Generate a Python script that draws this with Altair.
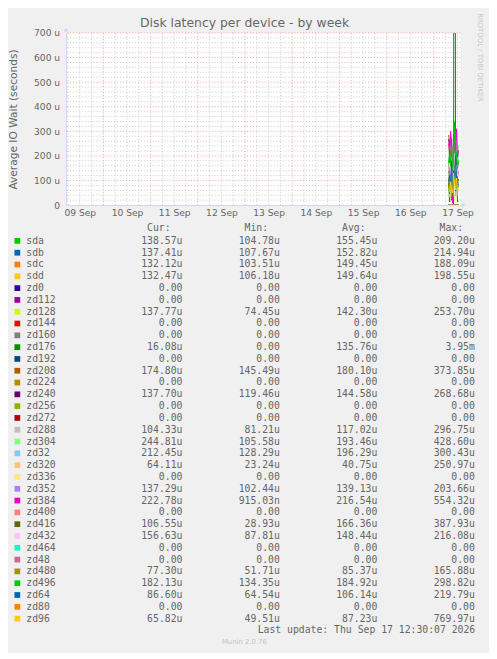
import altair as alt
import pandas as pd

# ---------------- data ----------------
names = ["sda", "sdb", "sdc", "sdd", "zd0", "zd112", "zd128", "zd144", "zd160",
         "zd176", "zd192", "zd208", "zd224", "zd240", "zd256", "zd272", "zd288",
         "zd304", "zd32", "zd320", "zd336", "zd352", "zd384", "zd400", "zd416",
         "zd432", "zd464", "zd48", "zd480", "zd496", "zd64", "zd80", "zd96"]

colors = ["#00CC00", "#0066B3", "#FF8000", "#FFCC00", "#330099", "#990099", "#CCFF00",
          "#FF0000", "#808080", "#008F00", "#00487D", "#B35A00", "#B38F00", "#6B006B",
          "#8FB300", "#B30000", "#BEBEBE", "#80FF80", "#80C9FF", "#FFC080", "#FFE680",
          "#AA80FF", "#EE00CC", "#FF8080", "#666600", "#FFBFFF", "#00FFCC", "#CC6699",
          "#999900", "#00CC00", "#0066B3", "#FF8000", "#FFCC00"]

cur = ["138.57u", "137.41u", "132.12u", "132.47u", "0.00", "0.00", "137.77u", "0.00", "0.00",
       "16.08u", "0.00", "174.80u", "0.00", "137.70u", "0.00", "0.00", "104.33u",
       "244.81u", "212.45u", "64.11u", "0.00", "137.29u", "222.78u", "0.00", "106.55u",
       "156.63u", "0.00", "0.00", "77.30u", "182.13u", "86.60u", "0.00", "65.82u"]
mins = ["104.78u", "107.67u", "103.51u", "106.18u", "0.00", "0.00", "74.45u", "0.00", "0.00",
        "0.00", "0.00", "145.49u", "0.00", "119.46u", "0.00", "0.00", "81.21u",
        "105.58u", "128.29u", "23.24u", "0.00", "102.44u", "915.03n", "0.00", "28.93u",
        "87.81u", "0.00", "0.00", "51.71u", "134.35u", "64.54u", "0.00", "49.51u"]
avgs = ["155.45u", "152.82u", "149.45u", "149.64u", "0.00", "0.00", "142.30u", "0.00", "0.00",
        "135.76u", "0.00", "180.10u", "0.00", "144.58u", "0.00", "0.00", "117.02u",
        "193.46u", "196.29u", "40.75u", "0.00", "139.13u", "216.54u", "0.00", "166.36u",
        "148.44u", "0.00", "0.00", "85.37u", "184.92u", "106.14u", "0.00", "87.23u"]
maxs = ["209.20u", "214.94u", "188.09u", "198.55u", "0.00", "0.00", "253.70u", "0.00", "0.00",
        "3.95m", "0.00", "373.85u", "0.00", "268.68u", "0.00", "0.00", "296.75u",
        "428.60u", "300.43u", "250.97u", "0.00", "203.66u", "554.32u", "0.00", "387.93u",
        "216.08u", "0.00", "0.00", "165.88u", "298.82u", "219.79u", "0.00", "769.97u"]

times = ["2026-09-17T07:30:00", "2026-09-17T08:00:00", "2026-09-17T08:30:00",
         "2026-09-17T09:00:00", "2026-09-17T09:30:00", "2026-09-17T10:00:00",
         "2026-09-17T10:30:00", "2026-09-17T11:00:00", "2026-09-17T11:30:00",
         "2026-09-17T12:00:00", "2026-09-17T12:30:00"]

ZERO = [0, 0, 0, 0, 0, 0, 0, 0, 0, 0, 0]
# plotted values in microseconds
series = {
    "sda":   [168, 195, 150, 142, 112, 160, 182, 139, 155, 121, 139],
    "sdb":   [150, 178, 205, 140, 128, 110, 166, 152, 146, 124, 137],
    "sdc":   [145, 182, 158, 136, 106, 141, 168, 138, 152, 118, 132],
    "sdd":   [142, 170, 190, 131, 108, 139, 160, 148, 136, 120, 132],
    "zd0":   ZERO, "zd112": ZERO,
    "zd128": [240, 175, 128, 78, 140, 116, 158, 126, 110, 124, 138],
    "zd144": ZERO, "zd160": ZERO,
    "zd176": [90, 12, 205, 20, 128, 5, 3950, 40, 150, 14, 16],
    "zd192": ZERO,
    "zd208": [285, 250, 196, 162, 148, 170, 182, 152, 166, 158, 175],
    "zd224": ZERO,
    "zd240": [268, 230, 150, 128, 121, 140, 162, 133, 145, 130, 138],
    "zd256": ZERO, "zd272": ZERO,
    "zd288": [110, 95, 130, 85, 240, 105, 118, 92, 126, 99, 104],
    "zd304": [150, 210, 262, 185, 120, 230, 300, 176, 205, 160, 245],
    "zd32":  [175, 240, 190, 280, 145, 210, 230, 168, 195, 150, 212],
    "zd320": [30, 45, 25, 62, 180, 38, 28, 55, 34, 48, 64],
    "zd336": ZERO,
    "zd352": [130, 165, 118, 150, 106, 172, 140, 128, 190, 112, 137],
    "zd384": [250, 205, 300, 180, 8, 290, 240, 175, 310, 195, 223],
    "zd400": ZERO,
    "zd416": [60, 220, 140, 270, 35, 190, 110, 250, 160, 80, 107],
    "zd432": [140, 170, 128, 195, 92, 150, 210, 135, 162, 118, 157],
    "zd464": ZERO, "zd48": ZERO,
    "zd480": [70, 95, 60, 120, 55, 88, 150, 75, 102, 66, 77],
    "zd496": [175, 205, 160, 240, 140, 190, 340, 170, 215, 150, 182],
    "zd64":  [95, 120, 80, 180, 66, 140, 105, 200, 110, 75, 87],
    "zd80":  ZERO,
    "zd96":  [70, 55, 95, 60, 50, 130, 85, 62, 110, 58, 66],
}

x_start = "2026-09-09T05:00:00"
x_end = "2026-09-17T13:30:00"
day_labels = [9, 10, 11, 12, 13, 14, 15, 16, 17]
title_text = "Disk latency per device - by week"
ytitle = "Average IO Wait (seconds)"
last_update = "Last update: Thu Sep 17 12:30:07 2026"
munin_text = "Munin 2.0.76"
watermark = "RRDTOOL / TOBI OETIKER"

# ---------------- tables ----------------
NB = "\u00a0"
def fmt(s):
    return s if s[-1].isalpha() else s + NB

line_df = pd.DataFrame([{"name": n, "t": t, "v": v}
                        for n in names for t, v in zip(times, series[n])])

cols = ["Cur", "Min", "Avg", "Max"]
leg_df = pd.DataFrame({"name": names})
val_df = pd.DataFrame([{"name": n, "col": c, "txt": fmt(s)}
                       for c, lst in zip(cols, [cur, mins, avgs, maxs])
                       for n, s in zip(names, lst)])
head_df = pd.DataFrame({"col": cols, "txt": [c + ":" for c in cols]})

minor_v = pd.DataFrame({"t": [t.isoformat() for t in
                              pd.date_range("2026-09-09T06:00", "2026-09-17T12:00", freq="6h")
                              if t.hour != 0]})
major_v = pd.DataFrame({"t": [t.isoformat() for t in
                              pd.date_range("2026-09-10T00:00", "2026-09-17T00:00", freq="1D")]})
minor_h = pd.DataFrame({"v": [v for v in range(20, 700, 20) if v % 100 != 0]})
major_h = pd.DataFrame({"v": list(range(100, 701, 100))})
one = pd.DataFrame({"a": [0]})

FONT = "DejaVu Sans"
MONO = "DejaVu Sans Mono"
FG = "#666666"
AXC = "#CFD6F8"

xscale = alt.Scale(domain=[x_start, x_end])
yscale = alt.Scale(domain=[0, 700], nice=False, zero=True)
cscale = alt.Scale(domain=names, range=colors)

x_axis = alt.Axis(values=[alt.DateTime(year=2026, month=9, date=d, hours=12) for d in day_labels],
                  format="%d %b", grid=False, ticks=False, title=None,
                  labelFont=FONT, labelFontSize=9.3, labelColor=FG,
                  labelPadding=4, domainColor=AXC, labelFlush=False)
y_axis = alt.Axis(values=list(range(0, 701, 100)), grid=False, ticks=False,
                  labelExpr="datum.value == 0 ? '0' : datum.value + ' u'",
                  labelFont=FONT, labelFontSize=9.3, labelColor=FG,
                  labelPadding=6.5, domainColor=AXC, title=ytitle,
                  titleFont=FONT, titleFontSize=10.8, titleFontWeight="normal",
                  titleColor=FG, titleX=-53, titleY=87.5, titleAngle=270,
                  titleAlign="center", titleBaseline="middle")

X = alt.X("t:T", scale=xscale, axis=x_axis)
Y = alt.Y("v:Q", scale=yscale, axis=y_axis)

lines = alt.Chart(line_df).mark_line(strokeWidth=1, clip=True).encode(
    x=X, y=Y,
    color=alt.Color("name:N", scale=cscale, legend=None),
    detail="name:N",
)
g_minor_v = alt.Chart(minor_v).mark_rule(color="#C8C8C8", strokeWidth=1, strokeDash=[1, 2]).encode(x=X)
g_major_v = alt.Chart(major_v).mark_rule(color="#F2A0A0", strokeWidth=1, strokeDash=[1, 2]).encode(x=X)
g_minor_h = alt.Chart(minor_h).mark_rule(color="#C8C8C8", strokeWidth=1, strokeDash=[1, 2]).encode(y=Y)
g_major_h = alt.Chart(major_h).mark_rule(color="#F2A0A0", strokeWidth=1, strokeDash=[1, 2]).encode(y=Y)

arrow_up = alt.Chart(one).mark_point(shape="triangle-up", filled=True, size=22,
                                     color=AXC, opacity=1).encode(
    x=alt.value(0), y=alt.value(-3.5))
arrow_right = alt.Chart(one).mark_point(shape="triangle-right", filled=True, size=22,
                                        color=AXC, opacity=1).encode(
    x=alt.value(404), y=alt.value(175))

plot = alt.layer(g_minor_v, g_minor_h, g_major_v, g_major_h, lines, arrow_up, arrow_right)

# ---------------- legend table ----------------
yleg = alt.Y("name:N", scale=alt.Scale(domain=names, range=[211.4, 595.4], padding=0), axis=None)
xleg = alt.X("col:N", scale=alt.Scale(domain=cols, range=[118.3, 415.6], padding=0), axis=None)

swatch = alt.Chart(leg_df).mark_square(size=34, filled=True, opacity=1, strokeWidth=0).encode(
    x=alt.value(-49.5), y=yleg, color=alt.Color("name:N", scale=cscale, legend=None))
name_txt = alt.Chart(leg_df).mark_text(align="left", baseline="middle", font=MONO,
                                       fontSize=9.95, color=FG).encode(
    x=alt.value(-40.4), y=yleg, text="name:N")
val_txt = alt.Chart(val_df).mark_text(align="right", baseline="middle", font=MONO,
                                      fontSize=9.95, color=FG).encode(
    x=xleg, y=yleg, text="txt:N")
head_txt = alt.Chart(head_df).mark_text(align="right", baseline="middle", font=MONO,
                                        fontSize=9.95, color=FG, dx=-12).encode(
    x=xleg, y=alt.value(198.6), text="txt:N")

legend = alt.layer(swatch, name_txt, val_txt, head_txt)

ttl = alt.Chart(pd.DataFrame({"s": [title_text]})).mark_text(
    align="center", baseline="middle", font=FONT, fontSize=12.6, color=FG).encode(
    x=alt.value(181.5), y=alt.value(-9.8), text="s:N")
upd = alt.Chart(pd.DataFrame({"s": [last_update]})).mark_text(
    align="right", baseline="middle", font=MONO, fontSize=9.95, color=FG).encode(
    x=alt.value(416), y=alt.value(607.4), text="s:N")
mun = alt.Chart(pd.DataFrame({"s": [munin_text]})).mark_text(
    align="center", baseline="middle", font=FONT, fontSize=7, color="#C4C4C4").encode(
    x=alt.value(181.3), y=alt.value(619.4), text="s:N")
wm = alt.Chart(pd.DataFrame({"s": [watermark]})).mark_text(
    align="center", baseline="middle", font=FONT, fontSize=7, color="#C8C8C8", angle=90).encode(
    x=alt.value(420.6), y=alt.value(25), text="s:N")

chart = alt.layer(plot, legend, ttl, upd, mun, wm).resolve_scale(
    x="independent", y="independent"
).properties(
    width=401, height=175,
    background="#F0F0F0",
    padding={"left": 59, "top": 20, "right": 29, "bottom": 450},
    autosize=alt.AutoSizeParams(type="none"),
).configure_view(fill="#FFFFFF", strokeWidth=0)

chart.save("out.html", embed_options={"renderer": "svg", "actions": False})
